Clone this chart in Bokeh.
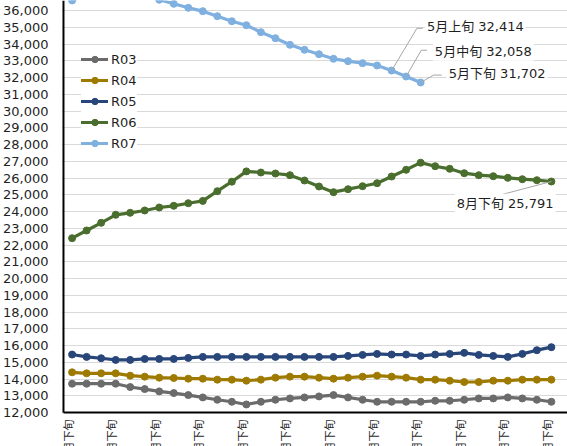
import math

from bokeh.embed import file_html
from bokeh.models import (ColumnDataSource, FixedTicker, Label, Legend,
                          LegendItem, NumeralTickFormatter, Range1d)
from bokeh.core.properties import value
from bokeh.plotting import figure
from bokeh.resources import INLINE

# ten-day periods (上旬 / 中旬 / 下旬), late September through late August
periods = [
    "9月下旬",
    "10月上旬", "10月中旬", "10月下旬",
    "11月上旬", "11月中旬", "11月下旬",
    "12月上旬", "12月中旬", "12月下旬",
    "1月上旬", "1月中旬", "1月下旬",
    "2月上旬", "2月中旬", "2月下旬",
    "3月上旬", "3月中旬", "3月下旬",
    "4月上旬", "4月中旬", "4月下旬",
    "5月上旬", "5月中旬", "5月下旬",
    "6月上旬", "6月中旬", "6月下旬",
    "7月上旬", "7月中旬", "7月下旬",
    "8月上旬", "8月中旬", "8月下旬",
]

r03 = [13720, 13720, 13720, 13720, 13520, 13400, 13260, 13160, 13040, 12900,
       12760, 12640, 12480, 12640, 12760, 12840, 12900, 12960, 13040, 12900,
       12760, 12640, 12640, 12640, 12640, 12700, 12700, 12760, 12840, 12840,
       12900, 12840, 12760, 12640]
r04 = [14400, 14340, 14340, 14340, 14200, 14140, 14080, 14060, 14020, 14020,
       13960, 13960, 13900, 13960, 14080, 14140, 14140, 14080, 14020, 14080,
       14140, 14200, 14140, 14080, 13960, 13960, 13900, 13820, 13820, 13900,
       13900, 13960, 13960, 13960]
r05 = [15460, 15320, 15240, 15140, 15140, 15200, 15200, 15200, 15260, 15320,
       15320, 15320, 15320, 15320, 15320, 15320, 15320, 15320, 15320, 15380,
       15440, 15500, 15460, 15460, 15380, 15460, 15500, 15560, 15440, 15380,
       15320, 15500, 15720, 15900]
r06 = [22406, 22866, 23325, 23803, 23922, 24060, 24239, 24340, 24495, 24633,
       25212, 25780, 26395, 26328, 26269, 26167, 25851, 25493, 25153, 25332,
       25510, 25690, 26090, 26490, 26915, 26704, 26549, 26286, 26167, 26107,
       26012, 25928, 25869, 25791]
r07 = [36600, 36950, 37150, 37200, 37100, 36900, 36640, 36400, 36160, 35960,
       35660, 35360, 35120, 34705, 34346, 33952, 33654, 33391, 33116, 32976,
       32855, 32716, 32414, 32058, 31702]

series_names = ["R03", "R04", "R05", "R06", "R07"]
series_values = [r03, r04, r05, r06, r07]
series_colors = ["#6b6b6b", "#9e7a00", "#284679", "#4a6e2d", "#7fb0e0"]

y_ticks = list(range(12000, 36001, 1000))

# periods whose values are written beside the curve: (series index, period index)
callouts = [(4, 22), (4, 23), (4, 24), (3, 33)]
# placement relative to the point, in pixels (x right, y up):
# text left edge / middle, leader elbow, leader end
callout_layout = [
    dict(text=(33.6, 44.3), elbow=(25.6, 42.3), end=(31.6, 42.3)),
    dict(text=(27.0, 25.3), elbow=(15.3, 26.3), end=(21.0, 26.3)),
    dict(text=(26.3, 9.1), elbow=(13.0, 7.4), end=(21.3, 7.4)),
    dict(text=(-97.7, -21.7), elbow=(-53.7, -14.0), end=(-53.7, -14.0)),
]

# ---- layout ----
W, H = 567, 446
LEFT = 56                       # frame starts here; axis line sits 2px inside
AXIS_PX = 2.0
BASE_PX = 412.0                 # pixel row of the 12,000 baseline
px_per_period = 14.667          # horizontal pixels per period
px_per_unit = 16.75 / 1000.0    # vertical pixels per unit value
first_x_px = 10.7               # first point, pixels right of the frame edge
tick_label_shift_px = -3.0      # optical centring of the rotated period labels
frame_w = W - LEFT
x0 = -first_x_px / px_per_period
x_range = Range1d(x0, x0 + frame_w / px_per_period)
y_base = y_ticks[0]
y_range = Range1d(y_base - (H - BASE_PX) / px_per_unit, y_base + BASE_PX / px_per_unit)
y_top = y_range.end

TXT = "#1f1f1f"
FONT = "DejaVu Sans, Noto Sans CJK JP"

p = figure(width=W, height=H, x_range=x_range, y_range=y_range,
           output_backend="svg", toolbar_location=None,
           min_border_left=LEFT, min_border_right=0, min_border_top=0,
           min_border_bottom=0, outline_line_color=None,
           background_fill_color="white", border_fill_color="white")

# y axis: labels only; the axis line itself is drawn as a segment
p.yaxis.ticker = FixedTicker(ticks=y_ticks)
p.yaxis.formatter = NumeralTickFormatter(format="0,0")
p.yaxis.axis_line_color = None
p.yaxis.major_tick_line_color = None
p.yaxis.minor_tick_line_color = None
p.yaxis.major_label_text_font = FONT
p.yaxis.major_label_text_font_size = "13px"
p.yaxis.major_label_text_color = TXT
p.yaxis.major_label_standoff = 7
p.ygrid.grid_line_color = "#d9d9d9"
p.ygrid.grid_line_width = 1
p.xaxis.visible = False
p.xgrid.visible = False

# axis lines
axis_x = x0 + AXIS_PX / px_per_period
p.segment(x0=[axis_x, axis_x], y0=[y_base, y_base],
          x1=[axis_x, x_range.end], y1=[y_top, y_base],
          line_color="black", line_width=2)

items = []
for name, vals, col in zip(series_names, series_values, series_colors):
    src = ColumnDataSource(dict(x=list(range(len(vals))), y=vals))
    ln = p.line("x", "y", source=src, line_color=col, line_width=3.2,
                line_join="round", line_cap="round")
    mk = p.scatter("x", "y", source=src, size=7, fill_color=col, line_color=col)
    items.append(LegendItem(label=name, renderers=[ln, mk]))

legend = Legend(items=items, location=(20, 295), padding=7, spacing=5, margin=0,
                glyph_width=27, glyph_height=16, label_height=16, label_standoff=3,
                label_text_font=FONT, label_text_font_size="13px",
                label_text_color=TXT, border_line_color=None,
                background_fill_color="white", background_fill_alpha=1.0)
p.add_layout(legend)

# value callouts with leader lines
for (si, pi), lay in zip(callouts, callout_layout):
    v = series_values[si][pi]
    ex, ey = lay["elbow"]
    nx, ny = lay["end"]
    xs = [pi, pi + ex / px_per_period, pi + nx / px_per_period]
    ys = [v, v + ey / px_per_unit, v + ny / px_per_unit]
    p.line(xs, ys, line_color="#a6a6a6", line_width=1)
    tx, ty = lay["text"]
    p.add_layout(Label(x=pi + tx / px_per_period, y=v + ty / px_per_unit,
                       text=f"{periods[pi]} {v:,}", text_font=FONT,
                       text_font_size="13px", text_color=TXT,
                       text_align="left", text_baseline="middle",
                       background_fill_color="white", background_fill_alpha=1.0,
                       padding=2))

# period labels under the baseline, every third period, rotated to read upward
tick_idx = list(range(0, len(periods), 3))
tick_src = ColumnDataSource(dict(
    x=[i + tick_label_shift_px / px_per_period for i in tick_idx],
    y=[y_base - 7 / px_per_unit] * len(tick_idx),
    text=[periods[i] for i in tick_idx],
))
p.text(x="x", y="y", text="text", source=tick_src, angle=math.pi / 2,
       text_align="right", text_baseline="middle", text_font=value(FONT),
       text_font_size="11px", text_color=TXT)

open("out.html", "w").write(file_html(p, INLINE))
